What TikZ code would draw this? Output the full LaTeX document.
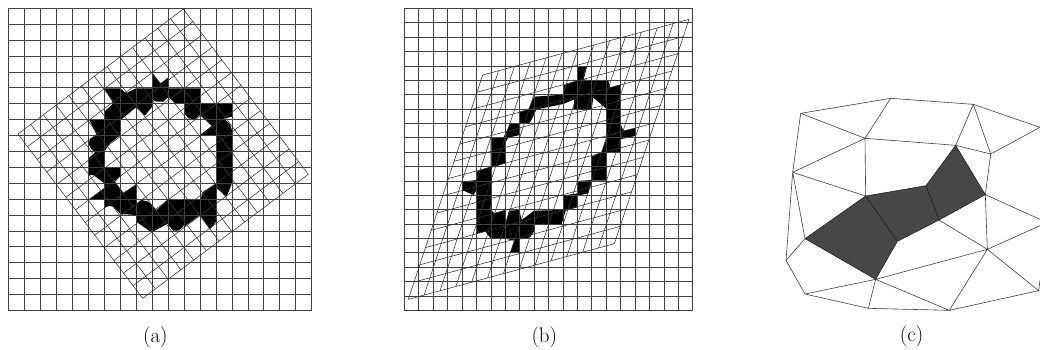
\documentclass[tikz,border=0pt]{standalone}
\usetikzlibrary{calc}
\tikzset{
  basegrid/.style={line width=0.65pt,draw=black!75},
  warpgrid/.style={line width=0.55pt,draw=black!80},
  mesh/.style={line width=0.6pt,draw=black!75},
  meshdark/.style={line width=0.5pt,draw=black!90},
  shaded/.style={fill=black!72},
  caption/.style={inner sep=0pt,font=\fontsize{21}{25}\selectfont},
  zoomed/.style={x=0.33333pt,y=-0.33333pt}
}
\begin{document}
\begin{tikzpicture}[x=1pt,y=-1pt]
\useasboundingbox (0,0) rectangle (1040,349);
% ---------- (a)
\begin{scope}[zoomed]
\fill[black,even odd rule]
 (313,265)--(361,265)--(378,280)--(408,265)--(456,265)--(456,217)--(482,250)--(505,232)--(505,265)--(600,265)--(600,312)--(696,312)--(696,350)--(672,356)--(690,372)--(696,390)--(696,550)--(680,590)--(648,563)--(648,665)--(630,688)--(600,645)--(553,680)--(548,672)--(550,680)--(535,692)--(520,692)--(505,675)--(505,670)--(455,697)--(408,665)--(408,645)--(362,642)--(340,620)--(330,618)--(313,622)--(313,597)--(268,597)--(313,565)--(313,550)--(280,525)--(265,525)--(265,475)--(285,458)--(272,445)--(265,430)--(272,415)--(290,405)--(268,360)--(313,360)--(313,335)--(340,310)--cycle
 (362,360)--(408,322)--(435,347)--(455,322)--(458,300)--(470,305)--(490,305)--(505,290)--(525,310)--(553,310)--(553,340)--(565,355)--(585,358)--(600,345)--(635,378)--(600,405)--(648,405)--(648,550)--(610,575)--(600,600)--(553,597)--(505,597)--(470,630)--(445,605)--(425,600)--(408,612)--(408,555)--(370,578)--(345,545)--(360,530)--(360,502)--(313,502)--(313,455)--(330,430)--(362,405)--cycle;
\foreach \i in {0,...,19}{
  \draw[basegrid] ({25+47.9*\i},25)--({25+47.9*\i},931);
  \draw[basegrid] (25,{25+47.68*\i})--(935,{25+47.68*\i});
}
\coordinate (aT) at (550,27);
\coordinate (aR) at (925,523);
\coordinate (aL) at (54,402);
\coordinate (aB) at (428,895);
\foreach \i in {0,...,13}{
  \draw[warpgrid] ($(aT)!\i/13!(aR)$)--($(aL)!\i/13!(aB)$);
  \draw[warpgrid] ($(aT)!\i/13!(aL)$)--($(aR)!\i/13!(aB)$);
}
\node[caption] (capa) at (466,1012) {(a)};
\end{scope}
% ---------- (b)
\begin{scope}[shift={(395,0)},zoomed]
\fill[black,even odd rule]
 (547,198)--(576,198)--(566,238)--(590,241)--(640,241)--(645,262)--(676,254)--(676,370)--(685,392)--(720,384)--(720,408)--(676,418)--(676,456)--(633,456)--(633,542)--(590,542)--(580,580)--(547,587)--(547,622)--(512,632)--(500,673)--(417,673)--(417,695)--(405,712)--(374,718)--(374,759)--(345,759)--(358,722)--(330,716)--(287,716)--(272,695)--(244,700)--(244,570)--(236,585)--(201,570)--(201,545)--(244,540)--(244,515)--(287,500)--(287,413)--(325,413)--(345,372)--(374,370)--(374,335)--(400,328)--(417,290)--(504,284)--(504,257)--(547,241)--cycle
 (380,660)--(417,632)--(504,630)--(504,587)--(547,580)--(547,543)--(590,540)--(590,470)--(620,456)--(633,420)--(633,325)--(595,293)--(590,327)--(535,327)--(538,298)--(505,312)--(425,328)--(405,368)--(375,372)--(375,405)--(340,413)--(331,428)--(331,490)--(290,503)--(287,628)--(298,640)--(331,630)--(331,672)--(342,632)--(373,630)--cycle;
\foreach \i in {0,...,20}{
  \draw[basegrid] ({28+43.25*\i},25)--({28+43.25*\i},931);
}
\foreach \i in {0,...,21}{
  \draw[basegrid] (28,{25+43.14*\i})--(893,{25+43.14*\i});
}
\coordinate (bTL) at (263,225);
\coordinate (bTR) at (882,58);
\coordinate (bBL) at (40,898);
\coordinate (bBR) at (658,731);
\foreach \i in {0,...,13}{
  \draw[warpgrid] ($(bTL)!\i/13!(bTR)$)--($(bBL)!\i/13!(bBR)$);
  \draw[warpgrid] ($(bTL)!\i/13!(bBL)$)--($(bTR)!\i/13!(bBR)$);
}
\node[caption] (capb) at (448,1012) {(b)};
\end{scope}
% ---------- (c)
\begin{scope}[shift={(770,80)},zoomed]
\coordinate (A) at (92,100);
\coordinate (B) at (362,55);
\coordinate (C) at (610,73);
\coordinate (D) at (810,142);
\coordinate (E) at (662,222);
\coordinate (F) at (557,196);
\coordinate (G) at (285,175);
\coordinate (H) at (68,277);
\coordinate (I) at (287,348);
\coordinate (J) at (468,317);
\coordinate (K) at (646,344);
\coordinate (L) at (810,418);
\coordinate (M) at (507,420);
\coordinate (N) at (382,484);
\coordinate (O) at (105,476);
\coordinate (P) at (48,541);
\coordinate (Q) at (105,642);
\coordinate (R) at (317,598);
\coordinate (S) at (295,685);
\coordinate (T) at (538,691);
\coordinate (U) at (652,508);
\coordinate (V) at (806,632);
\coordinate (W) at (810,437);
\coordinate (X) at (810,600);
\fill[shaded] (O)--(I)--(J)--(F)--(K)--(M)--(N)--(R)--cycle;
\draw[mesh] (A)--(B)--(C)--(D)--(E)--(C)--(F)--(E)--(K)--(L);
\draw[mesh] (A)--(G)--(B) (G)--(F) (G)--(H)--(A) (G)--(I)--(H)--(O)--(P)--(H);
\draw[mesh] (P)--(Q)--(R)--(S)--(Q) (S)--(T)--(R)--(U)--(T)--(V)--(U)--(K) (U)--(M) (U)--(W) (V)--(X);
\draw[meshdark] (I)--(N) (J)--(M) (O)--(I)--(J)--(F)--(K)--(M)--(N)--(R)--(O);
\node[caption] (capc) at (425,770) {(c)};
\end{scope}
\end{tikzpicture}
\end{document}
